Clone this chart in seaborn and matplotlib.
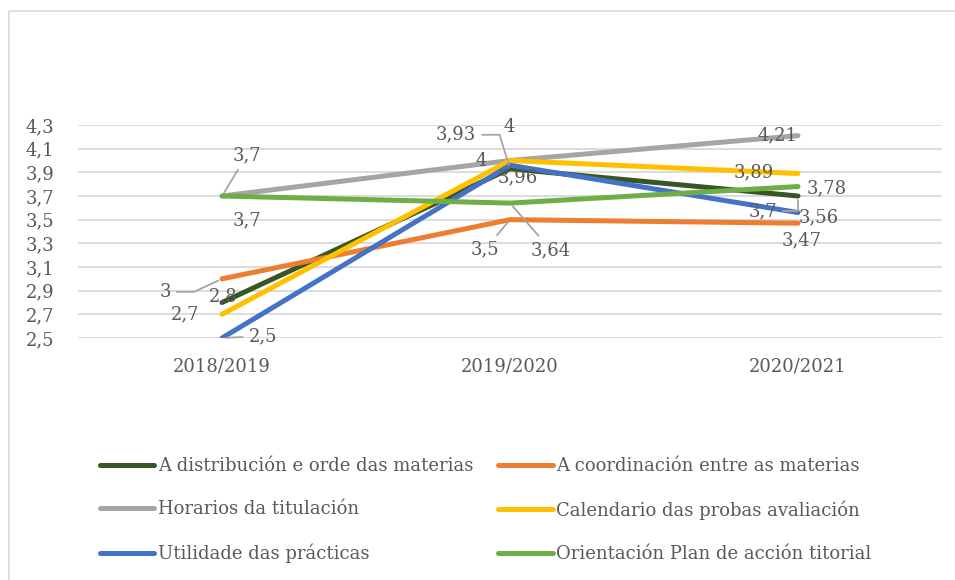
import pandas as pd
import matplotlib
matplotlib.use("Agg")
import matplotlib.pyplot as plt
import seaborn as sns
from matplotlib.patches import Rectangle
from matplotlib.ticker import FuncFormatter

# data
years = ["2018/2019", "2019/2020", "2020/2021"]
series_names = [
    "A distribución e orde das materias",
    "A coordinación entre as materias",
    "Horarios da titulación",
    "Calendario das probas avaliación",
    "Utilidade das prácticas",
    "Orientación Plan de acción titorial",
]
distribucion = [2.8, 3.93, 3.7]
coordinacion = [3.0, 3.5, 3.47]
horarios = [3.7, 4.0, 4.21]
calendario = [2.7, 4.0, 3.89]
practicas = [2.5, 3.96, 3.56]
orientacion = [3.7, 3.64, 3.78]
all_values = [distribucion, coordinacion, horarios, calendario, practicas, orientacion]

colors = ["#375623", "#ED7D31", "#A5A5A5", "#FFC000", "#4472C4", "#70AD47"]
text_col = "#595959"

rows = []
for name, vals in zip(series_names, all_values):
    for yr, v in zip(years, vals):
        rows.append({"year": yr, "value": v, "serie": name})
df = pd.DataFrame(rows)

sns.set_style("white")
plt.rcParams["font.family"] = ["DejaVu Serif"]
plt.rcParams["text.color"] = text_col

fig = plt.figure(figsize=(9.55, 5.8), dpi=100)
ax = fig.add_axes([78 / 955, 1 - 338 / 580, 864 / 955, 213 / 580])

sns.lineplot(data=df, x="year", y="value", hue="serie", hue_order=series_names,
             palette=colors, linewidth=3.6, ax=ax, legend=True, sort=False)
for ln in ax.lines:
    ln.set_solid_capstyle("round")

ax.set_xlim(-0.5, 2.5)
ax.set_ylim(2.5, 4.3)
yt = [2.5 + 0.2 * i for i in range(10)]
ax.set_yticks(yt)
ax.yaxis.set_major_formatter(FuncFormatter(lambda v, p: f"{v:.1f}".replace(".", ",")))
ax.grid(axis="y", color="#D9D9D9", linewidth=1.3)
ax.set_axisbelow(True)
for s in ax.spines.values():
    s.set_visible(False)
ax.tick_params(axis="y", length=0, pad=17, labelsize=13, labelcolor=text_col)
ax.tick_params(axis="x", length=0, pad=14, labelsize=13, labelcolor=text_col)
ax.set_xlabel("")
ax.set_ylabel("")

# data labels: (series index, year index, dx px, dy px, leader connection)
labels = [
    (2, 0, 25, 41, "arc3"), (5, 0, 25, -24, None), (1, 0, -57, -13, "angle,angleA=0,angleB=25,rad=0"),
    (0, 0, 1, 6, None), (3, 0, -37, 0, None), (4, 0, 41, 2, "arc3"),
    (0, 1, -54, 34, "angle,angleA=0,angleB=107,rad=0"), (3, 1, -1, 34, None), (2, 1, -29, 0, None),
    (4, 1, 8, -12, None), (1, 1, -25, -30, "arc3"), (5, 1, 41, -47, "arc3"),
    (2, 2, -21, 0, None), (3, 2, -44, 1, None), (5, 2, 29, -2, None),
    (0, 2, -35, -15, "angle,angleA=0,angleB=90,rad=0"), (4, 2, 21, -5, None), (1, 2, 4, -17, None),
]
for si, yi, dx, dy, conn in labels:
    v = all_values[si][yi]
    txt = f"{v:g}".replace(".", ",")
    props = None
    if conn is not None:
        props = dict(arrowstyle="-", color="#A5A5A5", lw=1.3, connectionstyle=conn,
                     shrinkA=2, shrinkB=3)
    ax.annotate(txt, xy=(yi, v), xytext=(dx, dy), textcoords="offset pixels",
                ha="center", va="center", fontsize=13, color=text_col,
                arrowprops=props, annotation_clip=False)

handles, lbls = ax.get_legend_handles_labels()
ax.get_legend().remove()
# legend fills column by column, so reorder to read row by row
order = [0, 2, 4, 1, 3, 5]
leg = fig.legend([handles[i] for i in order], [lbls[i] for i in order], ncol=2,
                 loc="upper left", bbox_to_anchor=(100 / 955, 1 - 457 / 580), frameon=False,
                 fontsize=13, handlelength=3.0, handletextpad=0.2,
                 columnspacing=1.4, labelspacing=1.4, borderpad=0, borderaxespad=0)
for h in leg.get_lines():
    h.set_linewidth(3.6)
    h.set_solid_capstyle("round")
for t in leg.get_texts():
    t.set_color(text_col)

# chart border
fig.patches.append(Rectangle((9 / 955, -0.05), 1.0, 1 - 11 / 580 + 0.05,
                             transform=fig.transFigure, fill=False,
                             edgecolor="#D9D9D9", linewidth=1.2))

fig.savefig("out.png", dpi=100)
